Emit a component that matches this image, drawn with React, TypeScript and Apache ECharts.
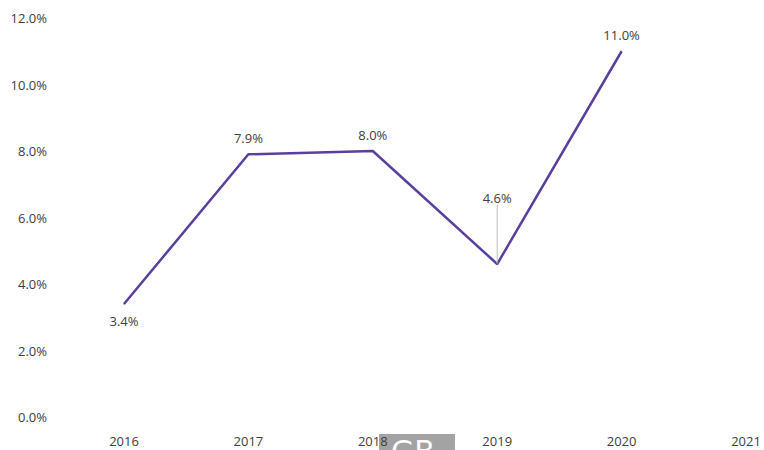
import React, { useEffect, useRef } from "react";
import * as echarts from "echarts";

const categories = ["2016", "2017", "2018", "2019", "2020", "2021"];
const values: (number | null)[] = [3.4, 7.9, 8.0, 4.6, 11.0, null];
const yTicks = [0, 2, 4, 6, 8, 10, 12];

export default function App() {
  const ref = useRef<HTMLDivElement>(null);
  useEffect(() => {
    if (!ref.current) return;
    const chart = echarts.init(ref.current, null, { renderer: "svg" });
    const font = "'Open Sans', 'Noto Sans', sans-serif";
    chart.setOption({
      animation: false,
      backgroundColor: "#ffffff",
      grid: { left: 124, right: 18, top: 18, bottom: 33, containLabel: false },
      xAxis: {
        type: "category",
        data: categories,
        boundaryGap: false,
        axisLine: { show: false },
        axisTick: { show: false },
        axisLabel: { color: "#404040", fontSize: 13, fontFamily: font, margin: 17 },
      },
      yAxis: {
        type: "value",
        min: yTicks[0],
        max: yTicks[yTicks.length - 1],
        interval: 2,
        splitLine: { show: false },
        axisLine: { show: false },
        axisTick: { show: false },
        axisLabel: {
          color: "#404040",
          fontSize: 13,
          fontFamily: font,
          margin: 77,
          formatter: (v: number) => v.toFixed(1) + "%",
        },
      },
      series: [
        {
          type: "line",
          data: values.map((v, i) => {
            if (v === null) return null;
            if (i === 0) {
              return { value: v, label: { position: "bottom", distance: 10 } };
            }
            if (i === 3) {
              return { value: v, labelLine: { show: true, lineStyle: { color: "#bdbdbd", width: 1 } } };
            }
            return { value: v };
          }),
          symbol: "circle",
          symbolSize: 1,
          showSymbol: true,
          itemStyle: { color: "#5b3f9e" },
          lineStyle: { color: "#5b3f9e", width: 2.5 },
          label: {
            show: true,
            position: "top",
            distance: 9,
            color: "#404040",
            fontSize: 13,
            fontFamily: font,
            formatter: (p: any) => Number(p.value).toFixed(1) + "%",
          },
          labelLayout: (params: any) => {
            if (params.dataIndex === 3) return { dy: -50 };
            return {};
          },
        },
      ],
      graphic: [
        {
          type: "group",
          left: 379,
          top: 434,
          children: [
            { type: "rect", shape: { x: 0, y: 0, width: 76, height: 16 }, style: { fill: "#a3a3a3" } },
            {
              type: "text",
              x: 12,
              y: 2,
              style: { text: "GB", fill: "#ffffff", font: "30px 'DejaVu Sans', sans-serif" },
            },
          ],
        },
      ],
    });
    return () => chart.dispose();
  }, []);
  return (
    <div
      ref={ref}
      style={{ position: "fixed", left: 0, top: 0, width: 764, height: 450 }}
    />
  );
}
